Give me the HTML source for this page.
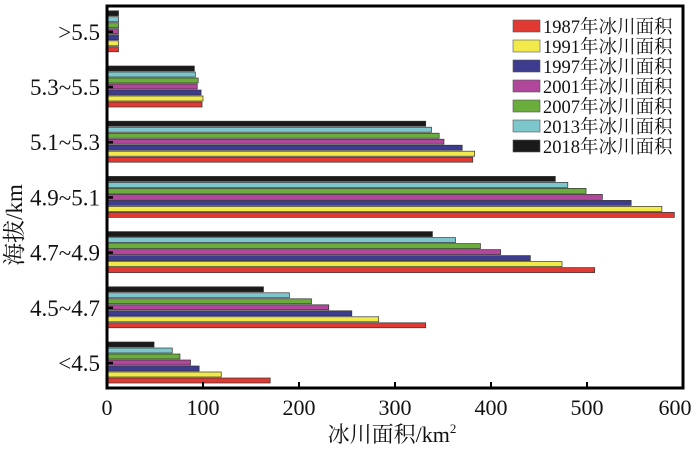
<!DOCTYPE html>
<html><head><meta charset="utf-8"><style>
html,body{margin:0;padding:0;background:#fff;}
svg text{font-family:"Liberation Serif","Noto Serif CJK SC",serif;fill:#111;}
</style></head><body>
<svg id="chart" width="700" height="447" viewBox="0 0 700 447" xmlns="http://www.w3.org/2000/svg">
<g id="bars"></g>
<rect x="107" y="6" width="576" height="382" fill="none" stroke="#000" stroke-width="3"/>
<g id="axes"></g>
<text x="392" y="442" font-size="22" text-anchor="middle">冰川面积/km<tspan font-size="13" dy="-9">2</tspan></text>
<text transform="translate(22,225) rotate(-90)" font-size="23" text-anchor="middle">海拔/km</text>
<g id="legend"></g>
</svg>
<script>
const categories = ["<4.5","4.5~4.7","4.7~4.9","4.9~5.1","5.1~5.3","5.3~5.5",">5.5"];
const years = ["1987","1991","1997","2001","2007","2013","2018"];
const colors = ["#e03a32","#f2ea4a","#3e3c8e","#b0479a","#6aad3c","#7cc6cc","#1a1a1a"];
const s1987 = [170,332,508,591,381,99,12];
const s1991 = [119,283,474,578,383,100,12];
const s1997 = [96,255,441,546,370,98,12];
const s2001 = [87,231,410,516,351,94,12];
const s2007 = [76,213,389,499,346,95,12];
const s2013 = [68,190,363,480,338,92,12];
const s2018 = [49,163,339,467,332,91,12];
const series = [s1987,s1991,s1997,s2001,s2007,s2013,s2018];
const xTicks = [0,100,200,300,400,500,600];

const NS="http://www.w3.org/2000/svg";
const X0=107, X1=683, XMAX=600;
const x = v => X0 + v/XMAX*(X1-X0);
const yCenter = i => 363 - i*55.2;
const BH=6;
const bars=document.getElementById('bars');
const axes=document.getElementById('axes');
categories.forEach((c,i)=>{
  const yc=yCenter(i);
  series.forEach((s,k)=>{
    const r=document.createElementNS(NS,'rect');
    
    
    r.setAttribute('x',X0);
    r.setAttribute('y',yc+21-(k+1)*BH);
    r.setAttribute('width',x(s[i])-X0);
    r.setAttribute('height',BH-1);
    r.setAttribute('fill',colors[k]);
    r.setAttribute('stroke','#333');
    r.setAttribute('stroke-width','0.7');
    bars.appendChild(r);
  });
  const t=document.createElementNS(NS,'line');
  
  
  t.setAttribute('x1',X0);t.setAttribute('x2',X0+6);
  t.setAttribute('y1',yc);t.setAttribute('y2',yc);
  t.setAttribute('stroke','#000');t.setAttribute('stroke-width','2.5');
  axes.appendChild(t);
  const l=document.createElementNS(NS,'text');
  
  
  l.setAttribute('x',100);l.setAttribute('y',yc+8);
  l.setAttribute('font-size','23');l.setAttribute('text-anchor','end');
  l.textContent=c;
  axes.appendChild(l);
});
xTicks.forEach(v=>{
  const t=document.createElementNS(NS,'line');
  
  
  t.setAttribute('x1',x(v));t.setAttribute('x2',x(v));
  t.setAttribute('y1',388);t.setAttribute('y2',382);
  t.setAttribute('stroke','#000');t.setAttribute('stroke-width','2');
  axes.appendChild(t);
  const l=document.createElementNS(NS,'text');
  
  
  l.setAttribute('x',x(v)-(v===600?8:0));l.setAttribute('y',415);
  l.setAttribute('font-size','22');l.setAttribute('text-anchor','middle');
  l.textContent=v;
  axes.appendChild(l);
});
const lg=document.getElementById('legend');
years.forEach((yr,k)=>{
  const yy=26+k*20;
  const r=document.createElementNS(NS,'rect');
  
  
  r.setAttribute('x',513);r.setAttribute('y',yy-6);
  r.setAttribute('width',27);r.setAttribute('height',12);
  r.setAttribute('fill',colors[k]);r.setAttribute('stroke','#555');r.setAttribute('stroke-width','0.6');
  lg.appendChild(r);
  const t=document.createElementNS(NS,'text');
  
  
  t.setAttribute('x',543);t.setAttribute('y',yy+7);
  t.setAttribute('font-size','18.5');
  t.textContent=yr+'年冰川面积';
  lg.appendChild(t);
});
</script>
</body></html>
